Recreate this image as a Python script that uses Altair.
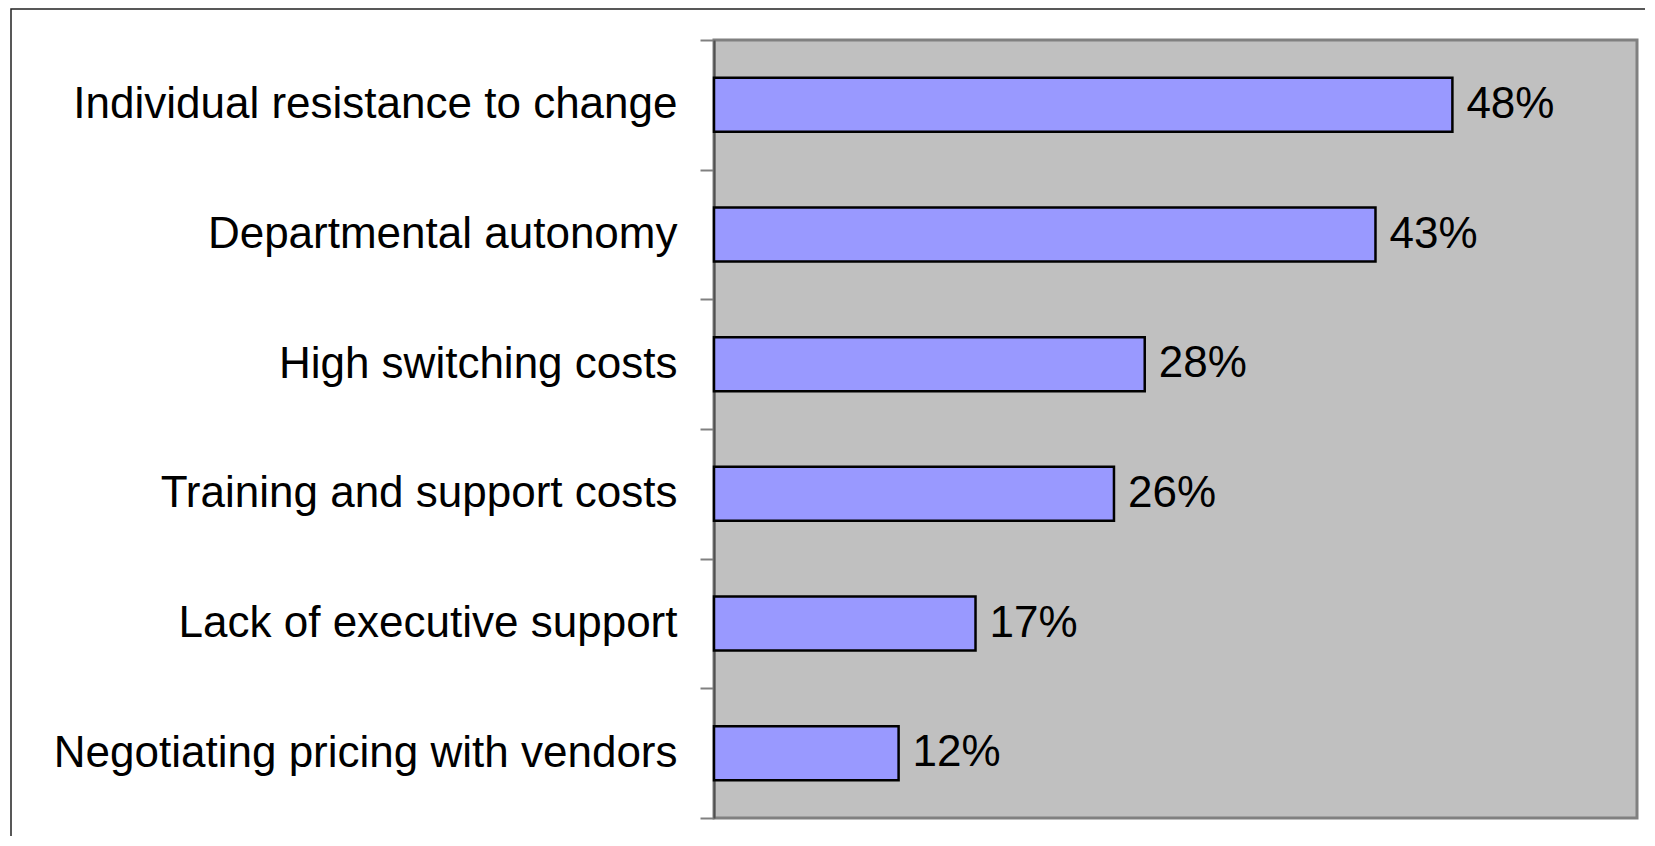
import altair as alt
import pandas as pd

categories = [
    "Individual resistance to change",
    "Departmental autonomy",
    "High switching costs",
    "Training and support costs",
    "Lack of executive support",
    "Negotiating pricing with vendors",
]
values = [48, 43, 28, 26, 17, 12]
x_domain = [0, 60]

df = pd.DataFrame({"category": categories, "value": values})
df["label"] = [f"{v}%" for v in values]

FONT = "Liberation Sans"

y_enc = alt.Y(
    "category:N",
    sort=categories,
    title=None,
    scale=alt.Scale(paddingInner=0, paddingOuter=0),
    axis=alt.Axis(
        labelFont=FONT,
        labelFontSize=44,
        labelColor="black",
        labelPadding=23,
        labelLimit=800,
        tickSize=14,
        tickColor="#808080",
        tickWidth=2,
        tickBand="extent",
        domainColor="#505050",
        domainWidth=2,
        grid=False,
    ),
)
x_enc = alt.X("value:Q", scale=alt.Scale(domain=x_domain, nice=False, zero=True), axis=None)

bars = alt.Chart(df).mark_bar(size=54, color="#9999FF", stroke="black", strokeWidth=2.5).encode(
    x=x_enc, y=y_enc
)

texts = alt.Chart(df).mark_text(
    align="left", baseline="middle", dx=14, font=FONT, fontSize=44, color="black"
).encode(x=x_enc, y=alt.Y("category:N", sort=categories), text="label:N")

frame = alt.Chart(pd.DataFrame({"f": [0]})).mark_rect(
    fill=None, stroke="#222222", strokeWidth=1.5
).encode(
    x=alt.value(-703), x2=alt.value(1200), y=alt.value(-31), y2=alt.value(1000)
)

chart = (
    alt.layer(bars, texts, frame)
    .properties(
        width=923,
        height=778,
        autosize="none",
        padding={"left": 706, "top": 32, "right": 8, "bottom": 18},
        background="white",
    )
    .configure_view(fill="#C0C0C0", stroke="#808080", strokeWidth=3)
)

chart.save("out.html", embed_options={"renderer": "svg", "actions": False})
